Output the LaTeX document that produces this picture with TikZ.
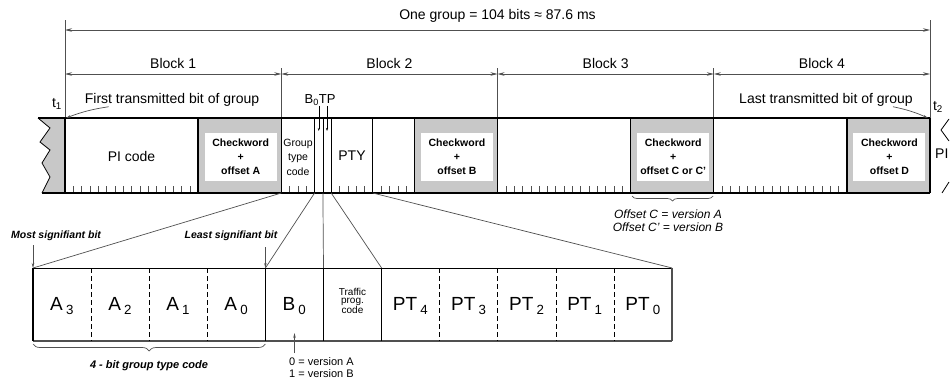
\documentclass[tikz,border=0pt]{standalone}
\usepackage{fontspec}
\setmainfont{Liberation Sans}
\usetikzlibrary{arrows.meta,positioning,calc,decorations.pathreplacing}
\definecolor{cwgray}{RGB}{200,200,200}
\definecolor{linegray}{RGB}{80,80,80}

\begin{document}
\begin{tikzpicture}[x=1pt, y=-1pt, >={Stealth[length=7pt,width=3.5pt]},
    every node/.style={font=\fontsize{14}{16}\selectfont, inner sep=0pt, text=black},
    dim/.style={linegray, line width=0.7pt},
    framebar/.style={line width=1.6pt},
    divider/.style={line width=1.3pt},
    tick/.style={linegray, line width=0.5pt},
    cwtext/.style={fill=white, minimum width=72pt, minimum height=48pt, align=center,
      font=\fontsize{10.5}{14}\selectfont\bfseries},
    note/.style={font=\fontsize{12}{13}\selectfont\itshape},
    bitnote/.style={font=\fontsize{10.5}{12}\selectfont\bfseries\itshape},
    cell/.style={font=\fontsize{19}{20}\selectfont},
    celldash/.style={line width=0.8pt, dash pattern=on 5pt off 3pt}]
  \useasboundingbox (0,0) rectangle (950,383);
  \clip (0,0) rectangle (950,383);
  % --- group and block dimensions ---
  \draw[dim] (65,20) -- (65,118);
  \draw[dim] (930,20) -- (930,118);
  \draw[dim,<->] (65,30) -- (930,30) node[midway, above=7pt] (grp) {One group = 104 bits ≈ 87.6 ms};
  \foreach \xa/\xb/\n in {65/281.3/1, 281.3/497.5/2, 497.5/713.8/3, 713.8/930/4}
    \draw[dim,<->] (\xa,74) -- (\xb,74) node[midway, above=5pt] (blk\n) {Block \n};
  \foreach \x in {281.3,497.5,713.8}
    \draw[dim] (\x,68) -- (\x,118);
  % --- broken edge of the previous group ---
  \fill[cwgray] (38,118) -- (50,128) -- (40,142) -- (50,150) -- (42,163) -- (50,177)
    -- (42,193) -- (65,193) -- (65,118) -- cycle;
  \draw[line width=0.8pt] (38,118) -- (50,128) -- (40,142) -- (50,150) -- (42,163)
    -- (50,177) -- (42,193);
  % --- checkwords ---
  \foreach \xa/\xb/\txt/\nm in {198.1/281.3/offset A/cwA, 414.4/497.5/offset B/cwB,
      630.6/713.8/offset C or C'/cwC, 846.9/930/offset D/cwD} {
    \fill[cwgray] (\xa,118) rectangle (\xb,193);
    \node[cwtext] (\nm) at ({(\xa+\xb)/2+1},157) {Checkword\\+\\\txt};
  }
  % bit ticks in the data fields
  \foreach \xs/\n in {65/16, 281.3/4, 331.2/5, 372.8/5, 497.5/16, 713.8/16} {
    \pgfmathtruncatemacro\m{\n-1}
    \foreach \k in {1,...,\m}
      \draw[tick] (\xs+\k*8.317,193) -- ++(0,-7);
  }
  % frame
  \draw[framebar] (38,118) -- (930,118);
  \draw[framebar] (42,193) -- (930,193);
  \foreach \x in {65,198.1,281.3,314.6,331.2,372.8,414.4,497.5,630.6,713.8,846.9,930}
    \draw[divider] (\x,118) -- (\x,193);
  \draw[line width=0.6pt] (322.9,118) -- (322.9,193);
  \node (pi) at (131.5,156) {PI code};
  \node[font=\fontsize{10.5}{14.5}\selectfont, align=center] (gtc) at (298,157) {Group\\type\\code};
  \node (pty) at (352,156) {PTY};
  % next group
  \draw[line width=0.8pt] (949,119) -- (941,130) -- (949,141);
  \draw[line width=0.8pt] (949,182) -- (942,193);
  \node[anchor=west] (nextpi) at (935,154) {PI};
  % --- labels above the frame ---
  \node (first) at (172,100) {First transmitted bit of group};
  \node (t1) at (57,104) {t\textsubscript{1}};
  \coordinate (fbit) at (66,118);
  \draw[dim,-{Stealth[length=5pt,width=2.5pt]}] ([xshift=24pt]first.south west) to[bend right=6] (fbit);
  \node (last) at (826,100) {Last transmitted bit of group};
  \node (t2) at (938,107) {t\textsubscript{2}};
  \coordinate (lbit) at (928,118);
  \draw[dim,-{Stealth[length=5pt,width=2.5pt]}] ([xshift=-20pt]last.south east) to[bend left=6] (lbit);
  \node[font=\fontsize{13}{15}\selectfont] (b0tp) at (320,100) {B\textsubscript{0}TP};
  \coordinate (b0pin) at (318.8,131);
  \coordinate (tppin) at (327,131);
  \draw[tick, black, -{Stealth[length=3pt,width=2pt]}] (b0tp.south -| b0pin) -- (b0pin);
  \draw[tick, black, -{Stealth[length=3pt,width=2pt]}] (b0tp.south -| tppin) -- (tppin);
  % --- offset C note ---
  \draw[dim, decorate, decoration={brace, amplitude=5pt, mirror}] (632,196) -- (713,196);
  \node[note, align=center] (offC) at (668,221) {Offset C = version A\\Offset C' = version B};
  % --- expanded view of block 2 ---
  \coordinate (gtcL) at (281.3,193);
  \coordinate (gtcR) at (314.6,193);
  \coordinate (b0R) at (322.9,193);
  \coordinate (tpR) at (331.2,193);
  \coordinate (ptyR) at (372.8,193);
  \coordinate (a3NW) at (33,268);
  \coordinate (a0NE) at (265.4,268);
  \coordinate (b0NE) at (323.5,268);
  \coordinate (tpcNE) at (381.6,268);
  \coordinate (pt0NE) at (672.1,268);
  \draw[dim] (gtcL) -- (a3NW);
  \draw[dim] (gtcR) -- (a0NE);
  \draw[dim] (b0R) -- (b0NE);
  \draw[dim] (tpR) -- (tpcNE);
  \draw[dim] (ptyR) -- (pt0NE);
  \draw[line width=0.9pt] (a3NW) -- (pt0NE);
  \draw[line width=1.6pt, linegray] (33,341) -- (672.1,341);
  \draw[line width=1.4pt] (a3NW) -- (33,341);
  \draw[line width=1.6pt, linegray] (pt0NE) -- (672.1,341);
  \foreach \x in {265.4,323.5,381.6}
    \draw[divider] (\x,268) -- (\x,341);
  \foreach \x in {91.1,149.2,207.3,439.7,497.8,555.9,614}
    \draw[celldash] (\x,268) -- (\x,341);
  \foreach \base/\sub [count=\i from 0] in {A/3,A/2,A/1,A/0,B/0}
    \node[cell] (c\base\sub) at (62.05+\i*58.1,306) {\base\,\textsubscript{\sub}};
  \node[font=\fontsize{10}{8.5}\selectfont, align=center] (tpc) at (352.5,301) {Traffic\\prog.\\code};
  \foreach \s [count=\i from 0] in {4,3,2,1,0}
    \node[cell] (pt\s) at (410.65+\i*58.1,306) {PT\,\textsubscript{\s}};
  % bit order
  \node[bitnote] (msb) at (56,236) {Most signifiant bit};
  \node[bitnote] (lsb) at (231,236) {Least signifiant bit};
  \draw[dim,-{Stealth[length=5pt,width=2.5pt]}] ([yshift=-4pt]msb.south -| a3NW) -- (a3NW);
  \draw[dim,-{Stealth[length=5pt,width=2.5pt]}] ([yshift=-6pt]lsb.south -| a0NE) -- (a0NE);
  % group type code brace
  \draw[dim, decorate, decoration={brace, amplitude=7pt, mirror}] (33,344) -- (265.4,344);
  \node[font=\fontsize{11}{12}\selectfont\bfseries\itshape] (gtclab) at (149,366) {4 - bit group type code};
  % B0 versions
  \node[font=\fontsize{11}{12.5}\selectfont, align=left, anchor=north west] (b0ver) at (289,357) {0 = version A\\1 = version B};
  \coordinate (b0pt) at (294.5,333);
  \draw[dim,-{Stealth[length=5pt,width=2.5pt]}] (b0ver.north west) ++(5.5,-4) -- (b0pt);
\end{tikzpicture}
\end{document}
